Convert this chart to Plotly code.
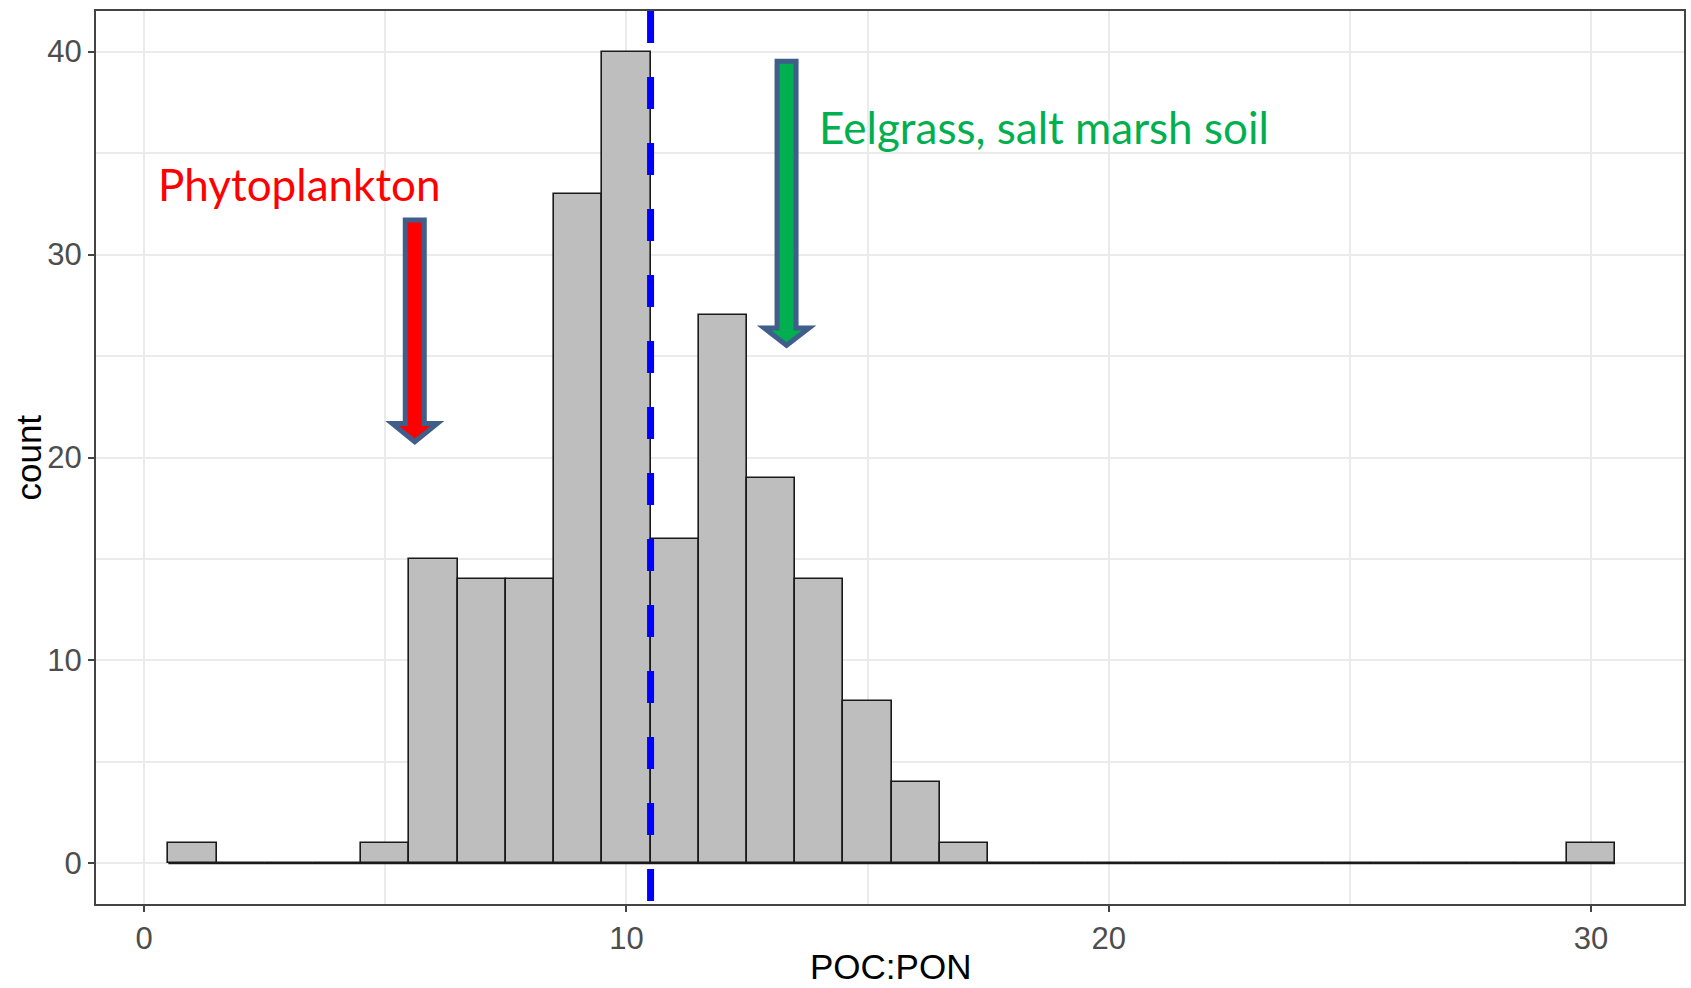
import plotly.graph_objects as go

# ---- data ----
bin_centers = list(range(1, 31))
counts = [1, 0, 0, 0, 1, 15, 14, 14, 33, 40, 16, 27, 19, 14, 8, 4, 1,
          0, 0, 0, 0, 0, 0, 0, 0, 0, 0, 0, 0, 1]
bin_width = 1.0
mean_value = 10.5

x_ticks = [0, 10, 20, 30]
y_ticks = [0, 10, 20, 30, 40]

# annotation arrows: (x centre, top, head base, tip) in data units
red_arrow = dict(x=5.61, top=31.7, head=21.67, tip=20.78)
green_arrow = dict(x=13.32, top=39.53, head=26.38, tip=25.53)
shaft_half = 0.197
head_half = 0.465

label_phyto = dict(text="Phytoplankton", x=0.24, y=33.5)
label_eel = dict(text="Eelgrass, salt marsh soil", x=13.96, y=36.3)

# ---- figure ----
fig = go.Figure()

edges_lo = bin_centers[0] - bin_width / 2
edges_hi = bin_centers[-1] + bin_width / 2
fig.add_trace(go.Scatter(x=[edges_lo, edges_hi], y=[0, 0], mode="lines",
                         line=dict(color="#1a1a1a", width=1.6),
                         hoverinfo="skip", showlegend=False))

fig.add_trace(go.Bar(x=bin_centers, y=counts, width=[bin_width] * len(counts),
                     marker=dict(color="#BEBEBE",
                                 line=dict(color="#1a1a1a", width=1.6)),
                     showlegend=False))


def arrow_path(a):
    xc = a["x"]
    return (f"M {xc - shaft_half},{a['top']} L {xc + shaft_half},{a['top']} "
            f"L {xc + shaft_half},{a['head']} L {xc + head_half},{a['head']} "
            f"L {xc},{a['tip']} L {xc - head_half},{a['head']} "
            f"L {xc - shaft_half},{a['head']} Z")


outline = "#3F5E8A"
fig.add_shape(type="path", path=arrow_path(red_arrow), xref="x", yref="y",
              fillcolor="#FF0000", line=dict(color=outline, width=5))
fig.add_shape(type="path", path=arrow_path(green_arrow), xref="x", yref="y",
              fillcolor="#00B050", line=dict(color=outline, width=5))

fig.add_shape(type="line", x0=mean_value, x1=mean_value, y0=1, y1=0,
              xref="x", yref="paper",
              line=dict(color="#0000FF", width=7, dash="32px,34px"))

fig.add_annotation(text=label_phyto["text"], x=label_phyto["x"], y=label_phyto["y"],
                   xref="x", yref="y", xanchor="left", yanchor="middle",
                   showarrow=False, font=dict(family="Lato", size=44, color="#FF0000"))
fig.add_annotation(text=label_eel["text"], x=label_eel["x"], y=label_eel["y"],
                   xref="x", yref="y", xanchor="left", yanchor="middle",
                   showarrow=False, font=dict(family="Lato", size=44, color="#00B050"))

# axis titles
fig.add_annotation(text="count", x=-0.0428, y=0.5, xref="paper", yref="paper",
                   textangle=-90, showarrow=False, xanchor="center", yanchor="middle",
                   font=dict(family="Liberation Sans", size=35, color="#000000"))
fig.add_annotation(text="POC:PON", x=0.5, y=-0.0705, xref="paper", yref="paper",
                   showarrow=False, xanchor="center", yanchor="middle",
                   font=dict(family="Liberation Sans", size=35, color="#000000"))

axis_common = dict(showline=True, mirror=True, linecolor="#444444", linewidth=2,
                   ticks="outside", ticklen=6, tickwidth=1.5, tickcolor="#444444",
                   showgrid=True, gridcolor="#EBEBEB", gridwidth=2, zeroline=False,
                   tickfont=dict(family="Liberation Sans", size=31, color="#4D4D4D"))

fig.update_xaxes(range=[-1, 31.93], tickvals=x_ticks,
                 minor=dict(tickvals=[5, 15, 25], showgrid=True, gridcolor="#EBEBEB",
                            gridwidth=1.5, ticks=""),
                 **axis_common)
fig.update_yaxes(range=[-2, 42], tickvals=y_ticks,
                 minor=dict(tickvals=[5, 15, 25, 35], showgrid=True, gridcolor="#EBEBEB",
                            gridwidth=1.5, ticks=""),
                 **axis_common)

fig.update_layout(width=1691, height=988, bargap=0,
                  margin=dict(l=96, r=5, t=11, b=84),
                  plot_bgcolor="white", paper_bgcolor="white")

fig.write_html("out.html")
